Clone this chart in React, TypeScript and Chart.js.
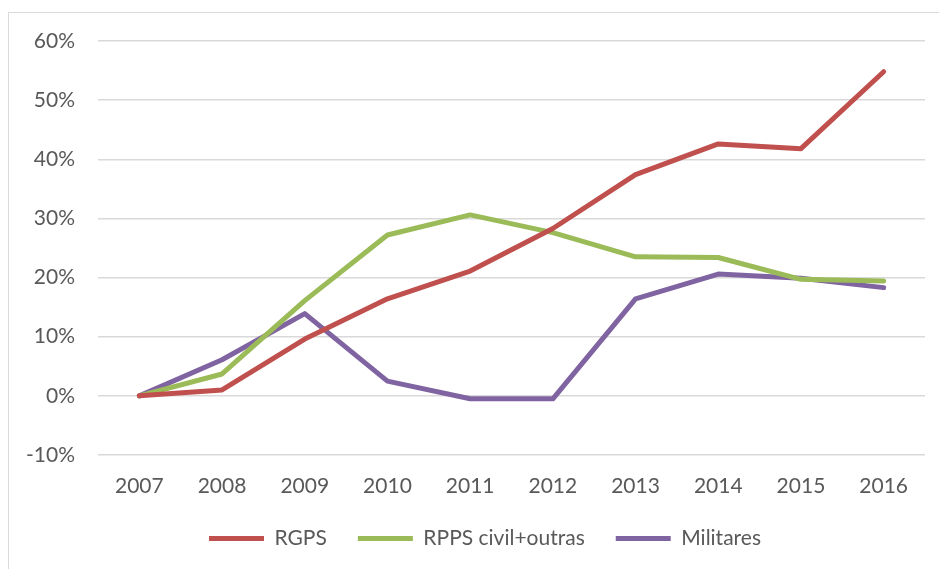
import React, { useEffect, useRef } from "react";
import { Chart, registerables } from "chart.js";

Chart.register(...registerables);

const categories = ["2007", "2008", "2009", "2010", "2011", "2012", "2013", "2014", "2015", "2016"];
const rgps = [0, 1.0, 9.6, 16.4, 21.1, 28.3, 37.4, 42.6, 41.8, 54.8];
const rppsCivil = [0, 3.7, 16.1, 27.2, 30.6, 27.6, 23.5, 23.4, 19.7, 19.4];
const militares = [0, 6.1, 13.9, 2.5, -0.5, -0.5, 16.4, 20.6, 19.9, 18.3];
const yMin = -10;
const yMax = 60;
const yStep = 10;

const FONT = "Lato, 'Open Sans', sans-serif";
const TEXT = "#595959";

const shiftLegend = {
  id: "shiftLegend",
  afterLayout(chart: any) {
    const l = chart.legend;
    if (l) {
      l.left += 12.5;
      l.right += 12.5;
    }
  },
};

export default function App() {
  const ref = useRef<HTMLCanvasElement | null>(null);

  useEffect(() => {
    if (!ref.current) return;
    const ds = (label: string, data: number[], color: string) => ({
      label,
      data,
      borderColor: color,
      backgroundColor: color,
      borderWidth: 5,
      borderCapStyle: "round" as const,
      borderJoinStyle: "round" as const,
      pointRadius: 0,
      pointHoverRadius: 0,
      tension: 0,
      fill: false,
    });
    const chart = new Chart(ref.current, {
      type: "line",
      data: {
        labels: categories,
        datasets: [
          ds("RGPS", rgps, "#C0504D"),
          ds("RPPS civil+outras", rppsCivil, "#9BBB59"),
          ds("Militares", militares, "#8064A2"),
        ],
      },
      plugins: [shiftLegend],
      options: {
        animation: false,
        responsive: false,
        maintainAspectRatio: false,
        layout: { padding: { top: 41, right: 14, bottom: 10, left: 20 } },
        plugins: {
          tooltip: { enabled: false },
          legend: {
            position: "bottom",
            labels: {
              usePointStyle: true,
              pointStyle: "line",
              pointStyleWidth: 55,
              boxHeight: 5,
              padding: 31,
              color: TEXT,
              font: { family: FONT, size: 21 },
            },
          },
        },
        scales: {
          x: {
            type: "category",
            offset: true,
            grid: { display: false, drawTicks: false },
            border: { display: false },
            ticks: { color: TEXT, font: { family: FONT, size: 21 }, padding: 19, maxRotation: 0 },
            afterFit: (s: any) => {
              s.height = 42;
            },
          },
          y: {
            min: yMin,
            max: yMax,
            grid: { color: "#D9D9D9", lineWidth: 1.5, drawTicks: false },
            border: { display: false },
            ticks: {
              stepSize: yStep,
              color: TEXT,
              font: { family: FONT, size: 21 },
              padding: 23,
              callback: (v: any) => `${v}%`,
            },
            afterFit: (s: any) => {
              s.width = 78;
            },
          },
        },
      },
    });
    return () => chart.destroy();
  }, []);

  return (
    <div
      style={{
        position: "absolute",
        left: 0,
        top: 0,
        width: 939,
        height: 569,
        overflow: "hidden",
        background: "#fff",
      }}
    >
      <div
        style={{
          position: "absolute",
          left: 8,
          top: 12,
          width: 960,
          height: 600,
          border: "1px solid #D9D9D9",
          boxSizing: "border-box",
        }}
      />
      <canvas
        ref={ref}
        width={939}
        height={569}
        style={{ position: "absolute", left: 0, top: 0, width: 939, height: 569 }}
      />
    </div>
  );
}
